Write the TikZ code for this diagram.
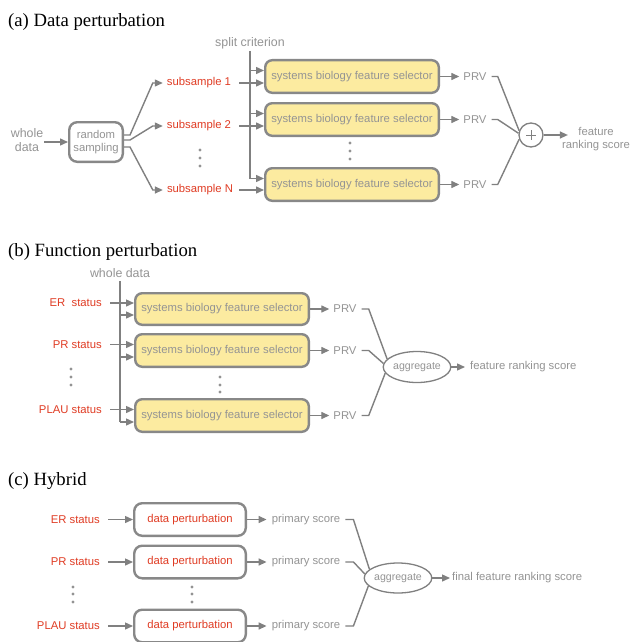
\documentclass[tikz,border=0pt]{standalone}
\usepackage{fontspec}
\setmainfont{Liberation Sans}
\newfontfamily\titlefont{Liberation Serif}
\usetikzlibrary{arrows.meta,calc,shapes.geometric}

\definecolor{txtgray}{RGB}{148,148,148}
\definecolor{linegray}{RGB}{128,128,128}
\definecolor{boxgray}{RGB}{136,136,136}
\definecolor{selfill}{RGB}{252,235,160}
\definecolor{labred}{RGB}{224,60,36}

\tikzset{
  lbl/.style={font=\fontsize{11.3}{12.5}\selectfont, text=txtgray, inner sep=0pt, align=center},
  biglbl/.style={font=\fontsize{12.4}{14.5}\selectfont, text=txtgray, inner sep=0pt, align=center},
  redlbl/.style={font=\fontsize{11.3}{12.5}\selectfont, text=labred, inner sep=0pt},
  title/.style={font=\titlefont\fontsize{18.7}{22}\selectfont, anchor=base west, inner sep=0pt},
  selector/.style={lbl, draw=boxgray, line width=2.4pt, fill=selfill, rounded corners=7pt,
    minimum width=173.6pt, minimum height=32.6pt},
  samplerbox/.style={lbl, draw=boxgray, line width=2.4pt, fill=white, rounded corners=8pt,
    minimum width=53.6pt, minimum height=39.6pt},
  pertbox/.style={redlbl, draw=boxgray, line width=2.4pt, fill=white, rounded corners=8pt,
    minimum width=111.6pt, minimum height=32.6pt},
  aggnode/.style={ellipse, draw=linegray, line width=1.3pt, inner sep=0pt,
    font=\fontsize{10.6}{12}\selectfont, text=txtgray},
  conn/.style={draw=linegray, line width=1.4pt},
  arr/.style={conn, -{Triangle[length=8pt,width=7pt]}},
  dot/.style={fill=linegray!85},
}

\begin{document}
\begin{tikzpicture}[x=1pt,y=-1pt]
\fill[white] (0,0) rectangle (630,642);
\useasboundingbox (0,0) rectangle (630,642);

% ---------------- (a) Data perturbation ----------------
\node[title] (ta) at (8,26.5) {(a) Data perturbation};
\node[biglbl] (split) at (250,43) {split criterion};
\node[biglbl] (wd1) at (27,140) {whole\\data};
\node[samplerbox] (rs) at (96,142) {random\\sampling};

\node[redlbl] (sub1) at (199,83) {subsample 1};
\node[redlbl] (sub2) at (199,126) {subsample 2};
\node[redlbl] (subN) at (200,190) {subsample N};

\node[selector] (s1) at (352,76.5) {systems biology feature selector};
\node[selector] (s2) at (352,119.5) {systems biology feature selector};
\node[selector] (s3) at (352,184.5) {systems biology feature selector};

\node[lbl] (p1) at (475,76.5) {PRV};
\node[lbl] (p2) at (475,119.5) {PRV};
\node[lbl] (p3) at (475,184.5) {PRV};

\node[circle, draw=linegray, line width=1.3pt, minimum size=24pt, inner sep=0pt] (plus) at (531,135) {};
\draw[linegray, line width=0.7pt] ($(plus.center)+(-5,0)$) -- ($(plus.center)+(5,0)$)
  ($(plus.center)+(0,-5)$) -- ($(plus.center)+(0,5)$);
\node[lbl] (fr1) at (596,139) {feature\\ranking score};

% whole data into the sampler
\coordinate (wd1e) at ($(wd1.east)+(1,0)$);
\draw[arr] (wd1e |- rs.west) -- (rs.west);

% sampler fans out to the subsamples
\draw[arr] ($(rs.east)+(0,-7)$) -- ++(6,0) -- ($(sub1.west)+(-14,0)$) -- ($(sub1.west)+(-4,0)$);
\draw[arr] ($(rs.east)+(0,-2)$) -- ++(6,0) -- ($(sub2.west)+(-14,0)$) -- ($(sub2.west)+(-4,0)$);
\draw[arr] ($(rs.east)+(0,5)$) -- ++(6,0) -- ($(subN.west)+(-14,0)$) -- ($(subN.west)+(-4,0)$);

% split criterion trunk and its branches
\coordinate (s1a) at ($(s1.west)+(0,-6)$);
\coordinate (s2a) at ($(s2.west)+(0,-6)$);
\coordinate (s3a) at ($(s3.west)+(0,-6)$);
\draw[conn] ($(split.south)+(0,2)$) -- (split.south |- s3a);
\draw[arr] (split.south |- s1a) -- (s1a);
\draw[arr] (split.south |- s2a) -- (s2a);
\draw[arr] (split.south |- s3a) -- (s3a);

% subsamples into the selectors
\draw[arr] ($(sub1.east)+(8,0)$) -- (s1.west |- sub1.east);
\draw[arr] ($(sub2.east)+(8,0)$) -- (s2.west |- sub2.east);
\draw[arr] ($(subN.east)+(6,0)$) -- (s3.west |- subN.east);

% selectors to PRVs
\draw[arr] (s1.east) -- ($(p1.west)+(-4,0)$);
\draw[arr] (s2.east) -- ($(p2.west)+(-4,0)$);
\draw[arr] (s3.east) -- ($(p3.west)+(-4,0)$);

% PRVs merge into the sum
\draw[conn] ($(p1.east)+(5,0)$) -- ++(6,0) -- (plus.160);
\draw[conn] ($(p2.east)+(5,0)$) -- ++(6,0) -- (plus.172);
\draw[conn] ($(p3.east)+(5,0)$) -- ++(6,0) -- (plus.200);
\coordinate (fr1in) at ($(fr1.west)+(6,0)$);
\draw[arr] (plus.east) -- (fr1in |- plus.east);

\foreach \yy in {150,158,166} \fill[dot] (200,\yy) circle (1.7);
\foreach \yy in {143,151,159} \fill[dot] (350,\yy) circle (1.7);

% ---------------- (b) Function perturbation ----------------
\node[title] (tb) at (8,256) {(b) Function perturbation};
\node[biglbl] (wd2) at (120,273) {whole data};

\node[selector, minimum height=31.6pt] (b1) at (222,309) {systems biology feature selector};
\node[selector] (b2) at (222,350.5) {systems biology feature selector};
\node[selector] (b3) at (222,415.5) {systems biology feature selector};

\node[redlbl, anchor=east] (er1) at (102,303) {ER\ \ status};
\node[redlbl, anchor=east] (pr1) at (102,344.5) {PR status};
\node[redlbl, anchor=east] (pl1) at (102,409.5) {PLAU status};

\draw[arr] ($(er1.east)+(8,0)$) -- (b1.west |- er1.east);
\draw[arr] ($(pr1.east)+(8,0)$) -- (b2.west |- pr1.east);
\draw[arr] ($(pl1.east)+(8,0)$) -- (b3.west |- pl1.east);

\coordinate (b1b) at ($(b1.west)+(0,6)$);
\coordinate (b2b) at ($(b2.west)+(0,6.5)$);
\coordinate (b3b) at ($(b3.west)+(0,6.5)$);
\draw[conn] ($(wd2.south)+(0,3)$) -- (wd2.south |- b3b);
\draw[arr] (wd2.south |- b1b) -- (b1b);
\draw[arr] (wd2.south |- b2b) -- (b2b);
\draw[arr] (wd2.south |- b3b) -- (b3b);

\node[lbl] (q1) at (345,309) {PRV};
\node[lbl] (q2) at (345,350.5) {PRV};
\node[lbl] (q3) at (345,415.5) {PRV};
\draw[arr] (b1.east) -- ($(q1.west)+(-4,0)$);
\draw[arr] (b2.east) -- ($(q2.west)+(-4,0)$);
\draw[arr] (b3.east) -- ($(q3.west)+(-4,0)$);

\node[aggnode, minimum width=56pt, minimum height=31pt] (agg1) at (417,367) {aggregate};
\draw[conn] ($(q1.east)+(5,0)$) -- ++(7,0) -- (agg1.165);
\draw[conn] ($(q2.east)+(5,0)$) -- ++(7,0) -- (agg1.174);
\draw[conn] ($(q3.east)+(5,0)$) -- ++(7,0) -- (agg1.191);

\node[lbl, anchor=west] (fr2) at (470,367) {feature ranking score};
\draw[arr] (agg1.east) -- ($(fr2.west)+(-5,0)$);

\foreach \yy in {369,377,385} \fill[dot] (71,\yy) circle (1.7);
\foreach \yy in {377,385,392} \fill[dot] (220,\yy) circle (1.7);

% ---------------- (c) Hybrid ----------------
\node[title] (tc) at (8,485) {(c) Hybrid};

\node[pertbox] (d1) at (190,519.5) {data perturbation};
\node[pertbox] (d2) at (190,562) {data perturbation};
\node[pertbox] (d3) at (190,626) {data perturbation};

\node[redlbl, anchor=east] (er2) at (100,519.5) {ER status};
\node[redlbl, anchor=east] (pr2) at (100,562) {PR status};
\node[redlbl, anchor=east] (pl2) at (100,626) {PLAU status};
\draw[arr] ($(er2.east)+(8,0)$) -- (d1.west);
\draw[arr] ($(pr2.east)+(8,0)$) -- (d2.west);
\draw[arr] ($(pl2.east)+(8,0)$) -- (d3.west);

\node[lbl] (ps1) at (306,519.5) {primary score};
\node[lbl] (ps2) at (306,562) {primary score};
\node[lbl] (ps3) at (306,626) {primary score};
\draw[arr] (d1.east) -- ($(ps1.west)+(-5,0)$);
\draw[arr] (d2.east) -- ($(ps2.west)+(-5,0)$);
\draw[arr] (d3.east) -- ($(ps3.west)+(-5,0)$);

\node[aggnode, minimum width=57pt, minimum height=30pt] (agg2) at (398,578) {aggregate};
\draw[conn] ($(ps1.east)+(5,0)$) -- ++(8,0) -- (agg2.163);
\draw[conn] ($(ps2.east)+(5,0)$) -- ++(8,0) -- (agg2.173);
\draw[conn] ($(ps3.east)+(5,0)$) -- ++(8,0) -- (agg2.195);

\node[lbl, anchor=west] (fr3) at (452,578) {final feature ranking score};
\draw[arr] (agg2.east) -- ($(fr3.west)+(-2,0)$);

\foreach \yy in {587,594,602} {
  \fill[dot] (73,\yy) circle (1.7);
  \fill[dot] (192,\yy) circle (1.7);
}
\end{tikzpicture}
\end{document}
